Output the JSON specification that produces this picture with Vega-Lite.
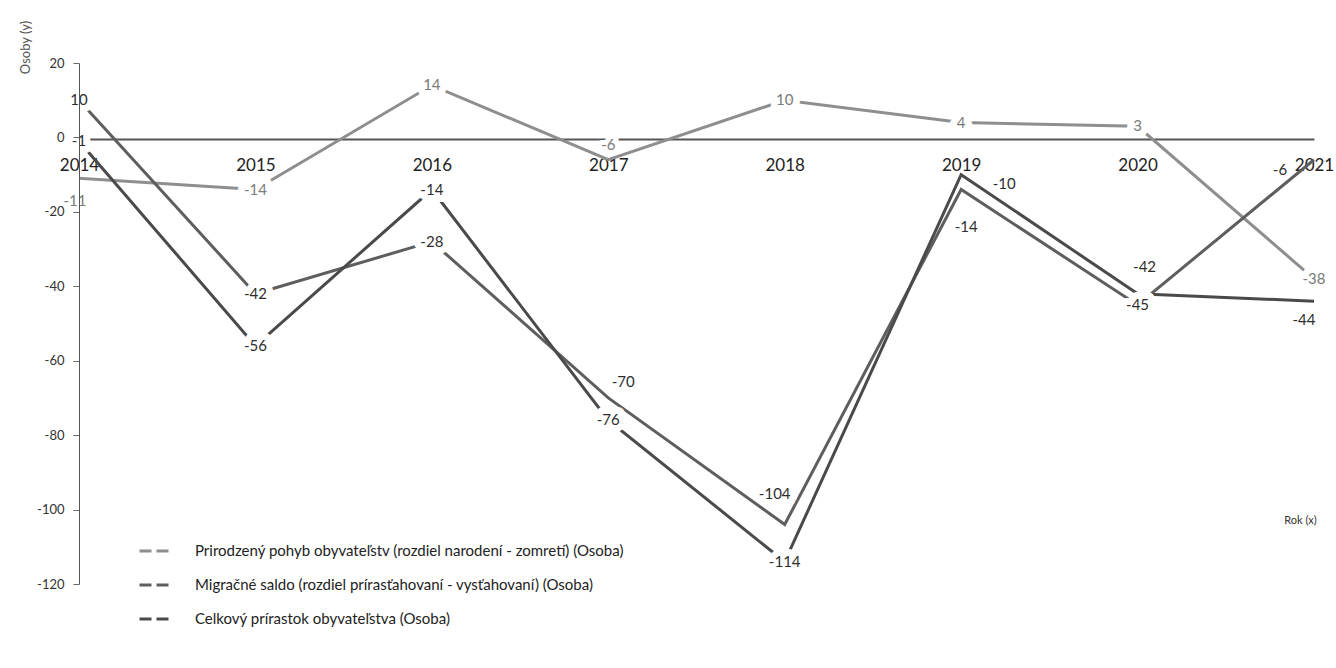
{
  "$schema": "https://vega.github.io/schema/vega-lite/v6.json",
  "width": 1235,
  "height": 521,
  "autosize": {"type": "none"},
  "padding": {"left": 79, "top": 63, "right": 22, "bottom": 84},
  "background": "white",
  "config": {
    "view": {"stroke": null},
    "font": "Lato",
    "axis": {"grid": false}
  },
  "data": {
    "values": [
      {"year": "2014", "code": "P", "series": "Prirodzený pohyb obyvateľstv (rozdiel narodení - zomretí) (Osoba)", "value": -11},
      {"year": "2015", "code": "P", "series": "Prirodzený pohyb obyvateľstv (rozdiel narodení - zomretí) (Osoba)", "value": -14},
      {"year": "2016", "code": "P", "series": "Prirodzený pohyb obyvateľstv (rozdiel narodení - zomretí) (Osoba)", "value": 14},
      {"year": "2017", "code": "P", "series": "Prirodzený pohyb obyvateľstv (rozdiel narodení - zomretí) (Osoba)", "value": -6},
      {"year": "2018", "code": "P", "series": "Prirodzený pohyb obyvateľstv (rozdiel narodení - zomretí) (Osoba)", "value": 10},
      {"year": "2019", "code": "P", "series": "Prirodzený pohyb obyvateľstv (rozdiel narodení - zomretí) (Osoba)", "value": 4},
      {"year": "2020", "code": "P", "series": "Prirodzený pohyb obyvateľstv (rozdiel narodení - zomretí) (Osoba)", "value": 3},
      {"year": "2021", "code": "P", "series": "Prirodzený pohyb obyvateľstv (rozdiel narodení - zomretí) (Osoba)", "value": -38},
      {"year": "2014", "code": "M", "series": " Migračné saldo (rozdiel prírasťahovaní - vysťahovaní) (Osoba)", "value": 10},
      {"year": "2015", "code": "M", "series": " Migračné saldo (rozdiel prírasťahovaní - vysťahovaní) (Osoba)", "value": -42},
      {"year": "2016", "code": "M", "series": " Migračné saldo (rozdiel prírasťahovaní - vysťahovaní) (Osoba)", "value": -28},
      {"year": "2017", "code": "M", "series": " Migračné saldo (rozdiel prírasťahovaní - vysťahovaní) (Osoba)", "value": -70},
      {"year": "2018", "code": "M", "series": " Migračné saldo (rozdiel prírasťahovaní - vysťahovaní) (Osoba)", "value": -104},
      {"year": "2019", "code": "M", "series": " Migračné saldo (rozdiel prírasťahovaní - vysťahovaní) (Osoba)", "value": -14},
      {"year": "2020", "code": "M", "series": " Migračné saldo (rozdiel prírasťahovaní - vysťahovaní) (Osoba)", "value": -45},
      {"year": "2021", "code": "M", "series": " Migračné saldo (rozdiel prírasťahovaní - vysťahovaní) (Osoba)", "value": -6},
      {"year": "2014", "code": "C", "series": "Celkový prírastok obyvateľstva (Osoba)", "value": -1},
      {"year": "2015", "code": "C", "series": "Celkový prírastok obyvateľstva (Osoba)", "value": -56},
      {"year": "2016", "code": "C", "series": "Celkový prírastok obyvateľstva (Osoba)", "value": -14},
      {"year": "2017", "code": "C", "series": "Celkový prírastok obyvateľstva (Osoba)", "value": -76},
      {"year": "2018", "code": "C", "series": "Celkový prírastok obyvateľstva (Osoba)", "value": -114},
      {"year": "2019", "code": "C", "series": "Celkový prírastok obyvateľstva (Osoba)", "value": -10},
      {"year": "2020", "code": "C", "series": "Celkový prírastok obyvateľstva (Osoba)", "value": -42},
      {"year": "2021", "code": "C", "series": "Celkový prírastok obyvateľstva (Osoba)", "value": -44}
    ]
  },
  "encoding": {
    "x": {
      "field": "year", "type": "ordinal",
      "scale": {"type": "point", "padding": 0},
      "axis": {
        "orient": "bottom", "offset": -445, "labelAngle": 0,
        "ticks": false, "tickSize": 0, "labelPadding": 18,
        "labelFont": "Lato", "labelFontSize": 17, "labelColor": "#222",
        "domainColor": "#555", "domainWidth": 2,
        "title": "Rok (x)", "titleFont": "Lato", "titleFontSize": 11, "titleFontWeight": "normal", "titleColor": "#333",
        "titleX": 1221, "titleY": 381, "titleAlign": "center", "titleBaseline": "middle"
      }
    },
    "y": {
      "field": "value", "type": "quantitative",
      "scale": {"domain": [-120, 20], "nice": false, "zero": false},
      "axis": {
        "zindex": 1,
        "values": [-120, -100, -80, -60, -40, -20, 0, 20],
        "labelExpr": "datum.value + ''",
        "tickSize": 6, "tickColor": "#666", "domainColor": "#555", "labelPadding": 9,
        "labelFont": "Lato", "labelFontSize": 13, "labelColor": "#333",
        "title": "Osoby (y)", "titleFont": "Lato", "titleFontSize": 13, "titleFontWeight": "normal", "titleColor": "#555",
        "titleAngle": 270, "titleX": -54, "titleY": -16, "titleAlign": "center", "titleBaseline": "middle"
      }
    }
  },
  "layer": [
    {
      "mark": {"type": "line", "strokeWidth": 3},
      "encoding": {
        "color": {
          "field": "series", "type": "nominal",
          "scale": {
            "domain": ["Prirodzený pohyb obyvateľstv (rozdiel narodení - zomretí) (Osoba)", " Migračné saldo (rozdiel prírasťahovaní - vysťahovaní) (Osoba)", "Celkový prírastok obyvateľstva (Osoba)"],
            "range": ["#8e8e8e", "#5e5e5e", "#4a4a4a"]
          },
          "legend": {
            "title": null, "orient": "none", "legendX": 59, "legendY": 472,
            "symbolType": "stroke", "symbolStrokeWidth": 3, "symbolDash": [12, 5], "symbolSize": 841,
            "labelFont": "Lato", "labelFontSize": 15, "labelColor": "#222", "labelOffset": 25,
            "rowPadding": 10, "labelLimit": 700
          }
        }
      }
    },
    {
      "transform": [{"filter": "!((datum.code=='P'&&datum.year=='2014')||(datum.code=='P'&&datum.year=='2017')||(datum.code=='M'&&datum.year=='2017')||(datum.code=='M'&&datum.year=='2018')||(datum.code=='C'&&datum.year=='2019')||(datum.code=='M'&&datum.year=='2019')||(datum.code=='C'&&datum.year=='2020')||(datum.code=='M'&&datum.year=='2021')||(datum.code=='C'&&datum.year=='2021'))"}],
      "mark": {"type": "text", "font": "Lato", "fontSize": 15, "stroke": "white", "strokeWidth": 14, "strokeJoin": "round", "fill": "white"},
      "encoding": {"text": {"field": "value"}}
    },
    {"transform": [{"filter": "datum.code=='P'&&datum.year=='2014'"}], "mark": {"type": "text", "font": "Lato", "fontSize": 15, "stroke": "white", "strokeWidth": 14, "strokeJoin": "round", "fill": "white", "dx": -4, "dy": 23}, "encoding": {"text": {"field": "value"}}},
    {"transform": [{"filter": "datum.code=='P'&&datum.year=='2017'"}], "mark": {"type": "text", "font": "Lato", "fontSize": 15, "stroke": "white", "strokeWidth": 10, "strokeJoin": "round", "fill": "white", "dy": -15}, "encoding": {"text": {"field": "value"}}},
    {"transform": [{"filter": "datum.code=='M'&&datum.year=='2017'"}], "mark": {"type": "text", "font": "Lato", "fontSize": 15, "stroke": "white", "strokeWidth": 14, "strokeJoin": "round", "fill": "white", "dx": 15, "dy": -16}, "encoding": {"text": {"field": "value"}}},
    {"transform": [{"filter": "datum.code=='M'&&datum.year=='2018'"}], "mark": {"type": "text", "font": "Lato", "fontSize": 15, "stroke": "white", "strokeWidth": 14, "strokeJoin": "round", "fill": "white", "dx": -10, "dy": -30}, "encoding": {"text": {"field": "value"}}},
    {"transform": [{"filter": "datum.code=='C'&&datum.year=='2019'"}], "mark": {"type": "text", "font": "Lato", "fontSize": 15, "stroke": "white", "strokeWidth": 14, "strokeJoin": "round", "fill": "white", "dx": 43, "dy": 9}, "encoding": {"text": {"field": "value"}}},
    {"transform": [{"filter": "datum.code=='M'&&datum.year=='2019'"}], "mark": {"type": "text", "font": "Lato", "fontSize": 15, "stroke": "white", "strokeWidth": 14, "strokeJoin": "round", "fill": "white", "dx": 5, "dy": 37}, "encoding": {"text": {"field": "value"}}},
    {"transform": [{"filter": "datum.code=='C'&&datum.year=='2020'"}], "mark": {"type": "text", "font": "Lato", "fontSize": 15, "stroke": "white", "strokeWidth": 14, "strokeJoin": "round", "fill": "white", "dx": 7, "dy": -27}, "encoding": {"text": {"field": "value"}}},
    {"transform": [{"filter": "datum.code=='M'&&datum.year=='2021'"}], "mark": {"type": "text", "font": "Lato", "fontSize": 15, "stroke": "white", "strokeWidth": 6, "strokeJoin": "round", "fill": "white", "dx": -34, "dy": 10}, "encoding": {"text": {"field": "value"}}},
    {"transform": [{"filter": "datum.code=='C'&&datum.year=='2021'"}], "mark": {"type": "text", "font": "Lato", "fontSize": 15, "stroke": "white", "strokeWidth": 14, "strokeJoin": "round", "fill": "white", "dx": -10, "dy": 19}, "encoding": {"text": {"field": "value"}}},
    {
      "transform": [{"filter": "!((datum.code=='P'&&datum.year=='2014')||(datum.code=='P'&&datum.year=='2017')||(datum.code=='M'&&datum.year=='2017')||(datum.code=='M'&&datum.year=='2018')||(datum.code=='C'&&datum.year=='2019')||(datum.code=='M'&&datum.year=='2019')||(datum.code=='C'&&datum.year=='2020')||(datum.code=='M'&&datum.year=='2021')||(datum.code=='C'&&datum.year=='2021'))"}],
      "mark": {"type": "text", "font": "Lato", "fontSize": 15},
      "encoding": {"text": {"field": "value"}, "color": {"condition": {"test": "datum.code=='P'", "value": "#7a7a7a"}, "value": "#2e2e2e"}}
    },
    {"transform": [{"filter": "datum.code=='P'&&datum.year=='2014'"}], "mark": {"type": "text", "font": "Lato", "fontSize": 15, "dx": -4, "dy": 23}, "encoding": {"text": {"field": "value"}, "color": {"value": "#7a7a7a"}}},
    {"transform": [{"filter": "datum.code=='P'&&datum.year=='2017'"}], "mark": {"type": "text", "font": "Lato", "fontSize": 15, "dy": -15}, "encoding": {"text": {"field": "value"}, "color": {"value": "#7a7a7a"}}},
    {"transform": [{"filter": "datum.code=='M'&&datum.year=='2017'"}], "mark": {"type": "text", "font": "Lato", "fontSize": 15, "dx": 15, "dy": -16}, "encoding": {"text": {"field": "value"}, "color": {"value": "#2e2e2e"}}},
    {"transform": [{"filter": "datum.code=='M'&&datum.year=='2018'"}], "mark": {"type": "text", "font": "Lato", "fontSize": 15, "dx": -10, "dy": -30}, "encoding": {"text": {"field": "value"}, "color": {"value": "#2e2e2e"}}},
    {"transform": [{"filter": "datum.code=='C'&&datum.year=='2019'"}], "mark": {"type": "text", "font": "Lato", "fontSize": 15, "dx": 43, "dy": 9}, "encoding": {"text": {"field": "value"}, "color": {"value": "#2e2e2e"}}},
    {"transform": [{"filter": "datum.code=='M'&&datum.year=='2019'"}], "mark": {"type": "text", "font": "Lato", "fontSize": 15, "dx": 5, "dy": 37}, "encoding": {"text": {"field": "value"}, "color": {"value": "#2e2e2e"}}},
    {"transform": [{"filter": "datum.code=='C'&&datum.year=='2020'"}], "mark": {"type": "text", "font": "Lato", "fontSize": 15, "dx": 7, "dy": -27}, "encoding": {"text": {"field": "value"}, "color": {"value": "#2e2e2e"}}},
    {"transform": [{"filter": "datum.code=='M'&&datum.year=='2021'"}], "mark": {"type": "text", "font": "Lato", "fontSize": 15, "dx": -34, "dy": 10}, "encoding": {"text": {"field": "value"}, "color": {"value": "#2e2e2e"}}},
    {"transform": [{"filter": "datum.code=='C'&&datum.year=='2021'"}], "mark": {"type": "text", "font": "Lato", "fontSize": 15, "dx": -10, "dy": 19}, "encoding": {"text": {"field": "value"}, "color": {"value": "#2e2e2e"}}}
  ]
}
